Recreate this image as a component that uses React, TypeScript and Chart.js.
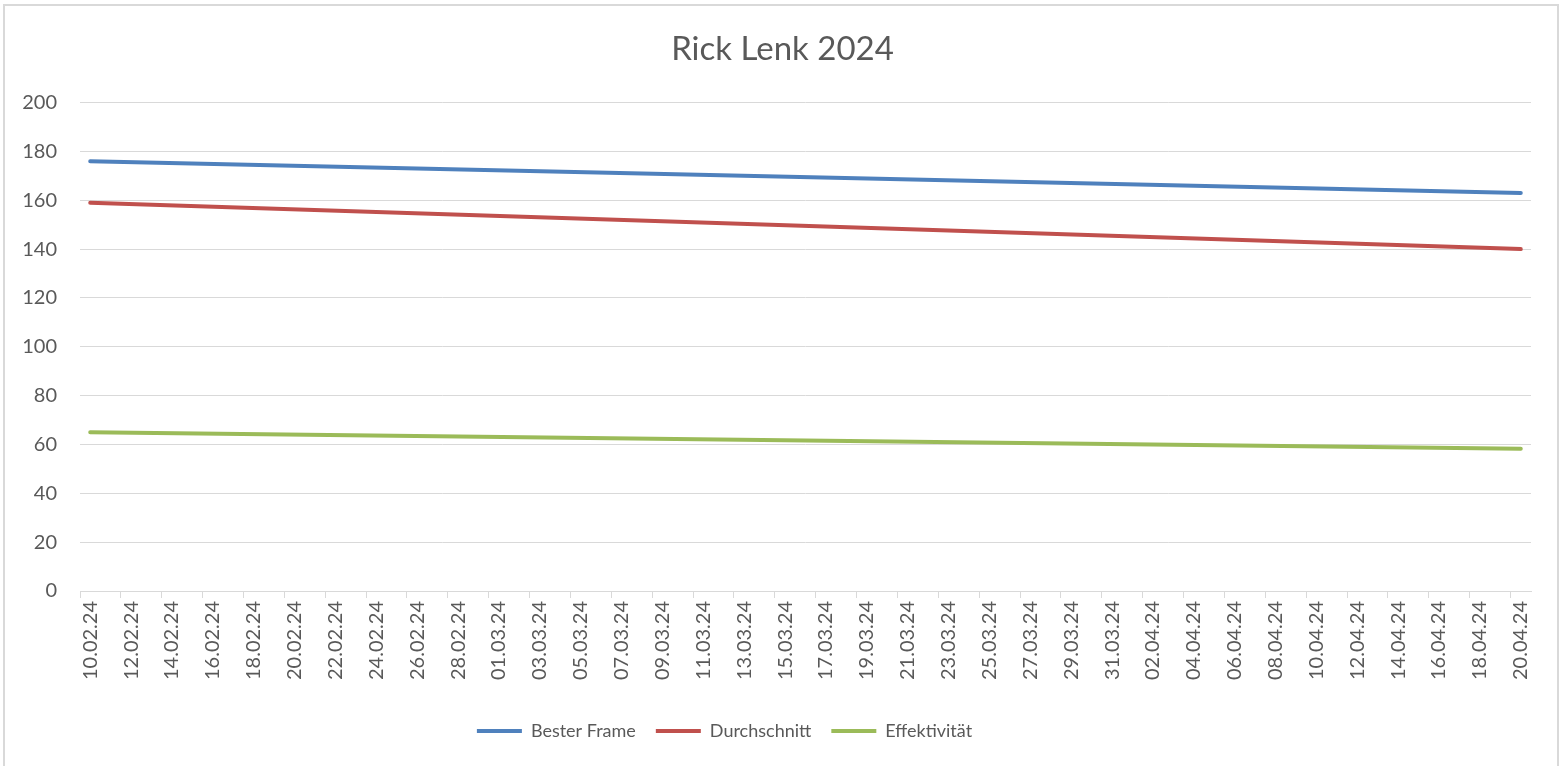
import React, { useEffect, useRef } from "react";
import { Chart, registerables } from "chart.js";

Chart.register(...registerables);

const dayLabels: string[] = [
  "10.02.24", "11.02.24", "12.02.24", "13.02.24", "14.02.24", "15.02.24", "16.02.24", "17.02.24",
  "18.02.24", "19.02.24", "20.02.24", "21.02.24", "22.02.24", "23.02.24", "24.02.24", "25.02.24",
  "26.02.24", "27.02.24", "28.02.24", "29.02.24",
  "01.03.24", "02.03.24", "03.03.24", "04.03.24", "05.03.24", "06.03.24", "07.03.24", "08.03.24",
  "09.03.24", "10.03.24", "11.03.24", "12.03.24", "13.03.24", "14.03.24", "15.03.24", "16.03.24",
  "17.03.24", "18.03.24", "19.03.24", "20.03.24", "21.03.24", "22.03.24", "23.03.24", "24.03.24",
  "25.03.24", "26.03.24", "27.03.24", "28.03.24", "29.03.24", "30.03.24", "31.03.24",
  "01.04.24", "02.04.24", "03.04.24", "04.04.24", "05.04.24", "06.04.24", "07.04.24", "08.04.24",
  "09.04.24", "10.04.24", "11.04.24", "12.04.24", "13.04.24", "14.04.24", "15.04.24", "16.04.24",
  "17.04.24", "18.04.24", "19.04.24", "20.04.24",
];

const pointDates: string[] = ["10.02.24", "20.04.24"];
const besterFrame: number[] = [176, 163];
const durchschnitt: number[] = [159, 140];
const effektivitaet: number[] = [65, 58.3];

const seriesNames: string[] = ["Bester Frame", "Durchschnitt", "Effektivität"];
const yTicks = { min: 0, max: 200, step: 20 };

const FONT = "Lato";
const TEXT = "#595959";
const GRID = "#d9d9d9";

const boxShift = {
  id: "boxShift",
  afterLayout(chart: any) {
    const lg = chart.legend;
    if (lg) {
      lg.left -= 41;
      lg.right -= 41;
    }
    const tt = chart.titleBlock;
    if (tt) {
      tt.left += 17;
      tt.right += 17;
    }
  },
};

export default function App() {
  const ref = useRef<HTMLCanvasElement | null>(null);

  useEffect(() => {
    if (!ref.current) return;
    const mk = (vals: number[]) => pointDates.map((d, i) => ({ x: d, y: vals[i] }));
    const common = {
      borderWidth: 4,
      borderCapStyle: "round" as const,
      borderJoinStyle: "round" as const,
      pointRadius: 0,
      pointHoverRadius: 0,
      tension: 0,
      fill: false,
      pointStyle: "line" as const,
    };
    const chart = new Chart(ref.current, {
      type: "line",
      data: {
        labels: dayLabels,
        datasets: [
          { ...common, label: seriesNames[0], data: mk(besterFrame), borderColor: "#4f81bd", backgroundColor: "#4f81bd" },
          { ...common, label: seriesNames[1], data: mk(durchschnitt), borderColor: "#c0504d", backgroundColor: "#c0504d" },
          { ...common, label: seriesNames[2], data: mk(effektivitaet), borderColor: "#9bbb59", backgroundColor: "#9bbb59" },
        ],
      },
      plugins: [boxShift],
      options: {
        responsive: false,
        animation: false,
        layout: { padding: { left: 0, right: 31, top: 0, bottom: 16 } },
        plugins: {
          title: {
            display: true,
            text: "Rick Lenk 2024",
            color: TEXT,
            font: { family: FONT, size: 33, weight: "normal" },
            padding: { top: 30, bottom: 33 },
          },
          legend: {
            position: "bottom",
            labels: {
              usePointStyle: true,
              pointStyleWidth: 45,
              color: TEXT,
              font: { family: FONT, size: 18 },
              padding: 20,
            },
          },
          tooltip: { enabled: false },
        },
        scales: {
          x: {
            type: "category",
            offset: true,
            afterFit: (s: any) => {
              s.height = 111;
            },
            grid: {
              offset: true,
              drawOnChartArea: false,
              drawTicks: true,
              tickLength: 7,
              color: (ctx: any) => (ctx.index % 2 === 0 ? GRID : "rgba(0,0,0,0)"),
            },
            border: { display: true, color: GRID, width: 1 },
            ticks: {
              autoSkip: false,
              minRotation: 90,
              maxRotation: 90,
              padding: 3,
              color: TEXT,
              font: { family: FONT, size: 20 },
              callback: (_v: any, i: number) => (i % 2 === 0 ? dayLabels[i] : ""),
            },
          },
          y: {
            min: yTicks.min,
            max: yTicks.max,
            afterFit: (s: any) => {
              s.width = 80;
            },
            grid: { color: GRID, lineWidth: 1, drawTicks: false },
            border: { display: false },
            ticks: {
              stepSize: yTicks.step,
              padding: 23,
              color: TEXT,
              font: { family: FONT, size: 20 },
            },
          },
        },
      },
    });
    return () => chart.destroy();
  }, []);

  return (
    <div style={{ position: "absolute", left: 0, top: 0, width: 1562, height: 766, overflow: "hidden", background: "#fff" }}>
      <div
        style={{
          position: "absolute",
          left: 3,
          top: 4,
          width: 1556,
          height: 780,
          border: "2px solid #d9d9d9",
          boxSizing: "border-box",
        }}
      />
      <canvas ref={ref} width={1562} height={766} style={{ position: "absolute", left: 0, top: 0, width: 1562, height: 766 }} />
    </div>
  );
}
